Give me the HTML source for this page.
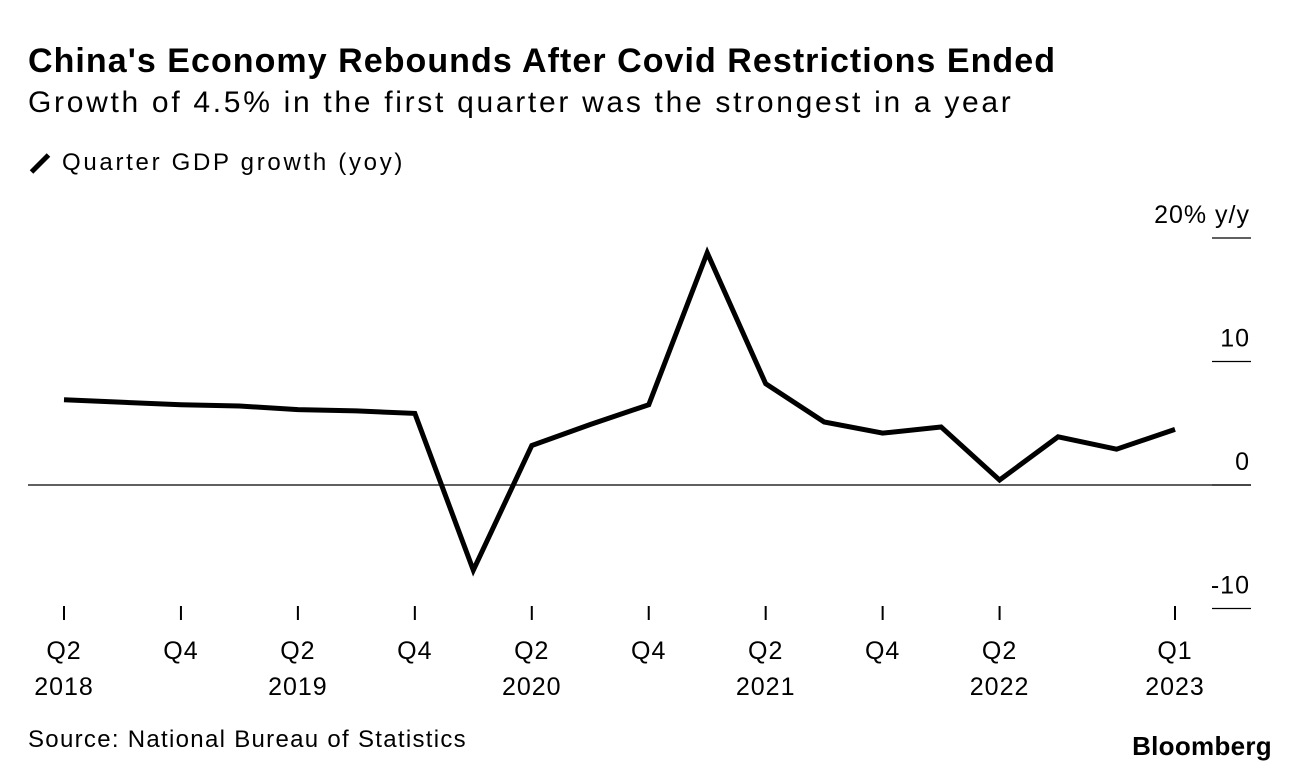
<!DOCTYPE html>
<html><head><meta charset="utf-8"><style>
body{margin:0;background:#fff;width:1296px;height:778px;overflow:hidden;font-family:"Liberation Sans",sans-serif;color:#000}
.t{position:absolute;white-space:nowrap}
</style></head><body>
<div class="t" style="left:28px;top:42px;font-size:34px;font-weight:bold;letter-spacing:1.05px">China's Economy Rebounds After Covid Restrictions Ended</div>
<div class="t" style="left:28px;top:86px;font-size:30px;letter-spacing:2.7px">Growth of 4.5% in the first quarter was the strongest in a year</div>
<div class="t" style="left:30px;top:149px;font-size:24px;letter-spacing:2.7px"><span style="display:inline-block;width:24px;height:5px;background:#000;transform:rotate(-45deg);vertical-align:middle;margin-right:10px;margin-left:-2px"></span>Quarter GDP growth (yoy)</div>
<div class="t" style="left:28px;top:726px;font-size:24px;letter-spacing:1.3px">Source: National Bureau of Statistics</div>
<div class="t" style="right:24px;top:731px;font-size:26px;font-weight:bold;letter-spacing:0.3px">Bloomberg</div>
<svg id="c" width="1296" height="778" style="position:absolute;left:0;top:0"></svg>
<script>
const quarters=["Q2 2018","Q3 2018","Q4 2018","Q1 2019","Q2 2019","Q3 2019","Q4 2019","Q1 2020","Q2 2020","Q3 2020","Q4 2020","Q1 2021","Q2 2021","Q3 2021","Q4 2021","Q1 2022","Q2 2022","Q3 2022","Q4 2022","Q1 2023"];
const growth=[6.9,6.7,6.5,6.4,6.1,6.0,5.8,-6.9,3.2,4.9,6.5,18.8,8.2,5.1,4.2,4.7,0.4,3.9,2.9,4.5];
const yTicks=[20,10,0,-10];
const yTickLabels=["20% y/y","10","0","-10"];
const xTickIdx=[0,2,4,6,8,10,12,14,16,19];
const xTickTop=["Q2","Q4","Q2","Q4","Q2","Q4","Q2","Q4","Q2","Q1"];
const xTickBottom=["2018","","2019","","2020","","2021","","2022","2023"];
const NS="http://www.w3.org/2000/svg",svg=document.getElementById('c');
const x=i=>64+i*(1175-64)/19;
const y=v=>485-v*12.35;
const FS={'font-size':25,'font-family':'Liberation Sans, sans-serif','letter-spacing':1};
function mk(t,a,txt){const e=document.createElementNS(NS,t);for(const k in a)e.setAttribute(k,a[k]);if(txt!==undefined)e.textContent=txt;svg.appendChild(e);return e;}
yTicks.forEach((v,i)=>{
 const l=mk('line',{x1:1212,x2:1251,y1:y(v),y2:y(v),stroke:'#000','stroke-width':1.2});
 
 
 const t=mk('text',Object.assign({x:1250,y:y(v)-15,'text-anchor':'end'},FS),yTickLabels[i]);
 
 
});
const z=mk('line',{x1:28,x2:1251,y1:y(0),y2:y(0),stroke:'#000','stroke-width':1.2});


xTickIdx.forEach((q,i)=>{
 const l=mk('line',{x1:x(q),x2:x(q),y1:606,y2:620,stroke:'#000','stroke-width':2});
 
 
 const t=mk('text',Object.assign({x:x(q),y:659,'text-anchor':'middle'},FS),xTickTop[i]);
 
 
 if(xTickBottom[i]){const b=mk('text',Object.assign({x:x(q),y:695,'text-anchor':'middle'},FS),xTickBottom[i]);
 
 }
});
const p=mk('polyline',{points:growth.map((v,i)=>x(i)+','+y(v)).join(' '),fill:'none',stroke:'#000','stroke-width':5,'stroke-linejoin':'miter'});


</script>
</body></html>
